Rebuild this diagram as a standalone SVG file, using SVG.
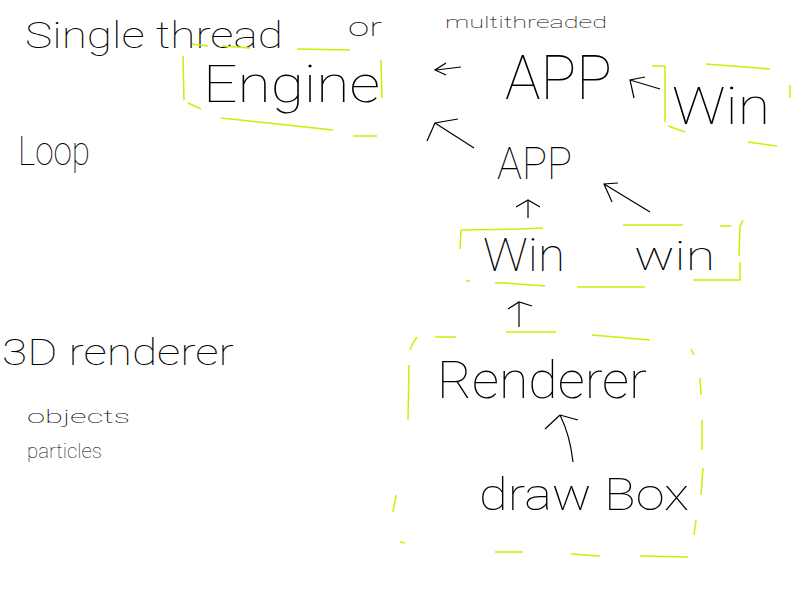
<svg xmlns="http://www.w3.org/2000/svg" width="800" height="600" viewBox="0 0 800 600">
<style>
text{font-family:Roboto,"Liberation Sans",sans-serif;font-weight:100;fill:#000}
.box{fill:none;stroke:#c8f000;stroke-width:1.5}
.con{fill:none;stroke:#000;stroke-width:1.2}
</style>
<rect width="800" height="600" fill="#fff"/>
<g id="title">
<text x="25" y="48" font-size="36" textLength="258" lengthAdjust="spacingAndGlyphs">Single thread</text>
<text x="348" y="36" font-size="26" textLength="34" lengthAdjust="spacingAndGlyphs">or</text>
<text x="445" y="28" font-size="17" textLength="162" lengthAdjust="spacingAndGlyphs">multithreaded</text>
</g>
<g id="engine">
<path class="box" d="M192,44 L208,46 M222,46 L250,48 M297,49 L350,50 M381,60 L382,98 M353,136 L377,136 M221,118 L240,120 L333,130 M188,103 L201,109 M183,56 L184,100" />
<text x="203" y="102" font-size="52" textLength="177" lengthAdjust="spacingAndGlyphs">Engine</text>
</g>
<g id="app1"><text x="505" y="99" font-size="62" textLength="107" lengthAdjust="spacingAndGlyphs">APP</text></g>
<g id="win1">
<path class="box" d="M652,66 L665,66 M706,64 L770,69 M665,66 L665,122 M668,126 L685,132 M748,142 L777,146 M790,85 L790,98"/>
<text x="672" y="124" font-size="52" textLength="98" lengthAdjust="spacingAndGlyphs">Win</text>
</g>
<g id="app2"><text x="497" y="179" font-size="44" textLength="75" lengthAdjust="spacingAndGlyphs">APP</text></g>
<g id="win2">
<path class="box" d="M461,230 L520,229 L543,228 M461,230 L460,249 M466,281 L470,281 M495,283 L505,283 L545,286 M577,287 L645,287 M623,225 L683,225 M720,226 L731,226 M743,220 L740,227 L739,256 M740,262 L740,280 L693,280"/>
<text x="483" y="271" font-size="46" textLength="82" lengthAdjust="spacingAndGlyphs">Win</text>
<text x="634" y="270" font-size="40" textLength="81" lengthAdjust="spacingAndGlyphs">win</text>
</g>
<g id="renderer">
<path class="box" d="M417,337 L413,343 L410,350 M435,337 L456,337 M506,332 L556,332 M592,335 L650,340 M691,349 L694,355 M700,378 L701,395 M702,420 L702,450 M703,468 L701,495 M696,520 L694,535 M688,557 L640,556 M571,554 L600,556 M495,552 L523,552 M400,542 L405,543 M393,512 L396,495 M409,365 L408,420"/>
<text x="437" y="398" font-size="52" textLength="210" lengthAdjust="spacingAndGlyphs">Renderer</text>
<text x="479" y="510" font-size="44" textLength="210" lengthAdjust="spacingAndGlyphs">draw Box</text>
</g>
<g id="notes">
<text x="18" y="165" font-size="40" textLength="72" lengthAdjust="spacingAndGlyphs">Loop</text>
<text x="2" y="365" font-size="36" textLength="232" lengthAdjust="spacingAndGlyphs">3D renderer</text>
<text x="27" y="423" font-size="19" textLength="103" lengthAdjust="spacingAndGlyphs">objects</text>
<text x="27" y="458" font-size="20" textLength="75" lengthAdjust="spacingAndGlyphs">particles</text>
</g>
<g id="connectors">
<path class="con" d="M461,67 L436,70 M446,63 L435,70 L446,75"/>
<path class="con" d="M660,89 L630,80 M645,77 L630,80 L634,98"/>
<path class="con" d="M474,148 L435,123 M458,119 L435,123 L427,141"/>
<path class="con" d="M528,218 L528,200 M516,207 L528,200 L540,207"/>
<path class="con" d="M650,212 L604,184 M618,183 L604,184 L612,202"/>
<path class="con" d="M519,327 L519,302 M508,309 L519,302 L532,306"/>
<path class="con" d="M573,462 Q570,435 560,415 M545,429 L560,415 M560,415 L578,420"/>
</g>
</svg>
